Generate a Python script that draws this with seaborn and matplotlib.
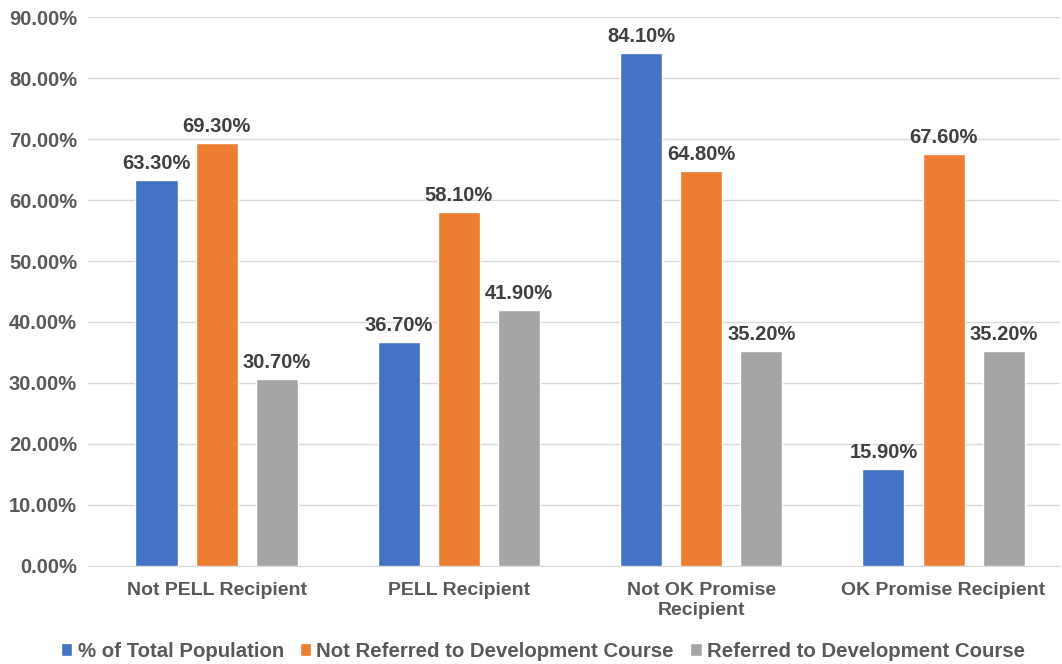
import pandas as pd
import matplotlib.pyplot as plt
import seaborn as sns

# Datos
groups = ['Not PELL Recipient', 'PELL Recipient', 'Not OK Promise\nRecipient', 'OK Promise Recipient']
series = ['% of Total Population', 'Not Referred to Development Course', 'Referred to Development Course']
total_pop = [63.3, 36.7, 84.1, 15.9]
not_referred = [69.3, 58.1, 64.8, 67.6]
referred = [30.7, 41.9, 35.2, 35.2]
colors = ['#4472C4', '#ED7D31', '#A5A5A5']

df = pd.DataFrame({
    'group': groups * 3,
    'serie': [series[0]] * 4 + [series[1]] * 4 + [series[2]] * 4,
    'value': total_pop + not_referred + referred,
})

sns.set_style('white')
plt.rcParams['font.family'] = ['Liberation Sans', 'DejaVu Sans']
txt = '#595959'

fig = plt.figure(figsize=(10.62, 6.64), dpi=100)
ax = fig.add_axes([0.083, 0.148, 0.915, 0.826])

sns.barplot(data=df, x='group', y='value', hue='serie', palette=colors, saturation=1,
            width=0.744, gap=0.3, ax=ax, legend=True, zorder=3)

for cont in ax.containers:
    ax.bar_label(cont, labels=[f'{v:.2f}%' for v in cont.datavalues], padding=5,
                 fontsize=14.5, fontweight='bold', color='#404040')

ax.set_ylim(0, 90)
ax.set_yticks(range(0, 91, 10))
ax.set_yticklabels([f'{v:.2f}%' for v in range(0, 91, 10)])
ax.set_xlim(-0.53, 3.48)
ax.grid(axis='y', color='#D9D9D9', linewidth=1, zorder=0)
for s in ['top', 'right', 'left']:
    ax.spines[s].set_visible(False)
ax.spines['bottom'].set_color('#D9D9D9')
ax.tick_params(axis='y', length=0, labelsize=14.5, labelcolor=txt, pad=8)
ax.tick_params(axis='x', length=0, labelsize=14, labelcolor=txt, pad=12)
for lab in ax.get_xticklabels() + ax.get_yticklabels():
    lab.set_fontweight('bold')
ax.set_xlabel('')
ax.set_ylabel('')

ax.legend(loc='upper center', bbox_to_anchor=(0.468, -0.105), ncol=3, frameon=False,
          handlelength=0.55, handleheight=0.55, handletextpad=0.25, columnspacing=0.8,
          prop={'size': 14.7, 'weight': 'bold'}, labelcolor=txt)

fig.savefig('out.png', dpi=100)
